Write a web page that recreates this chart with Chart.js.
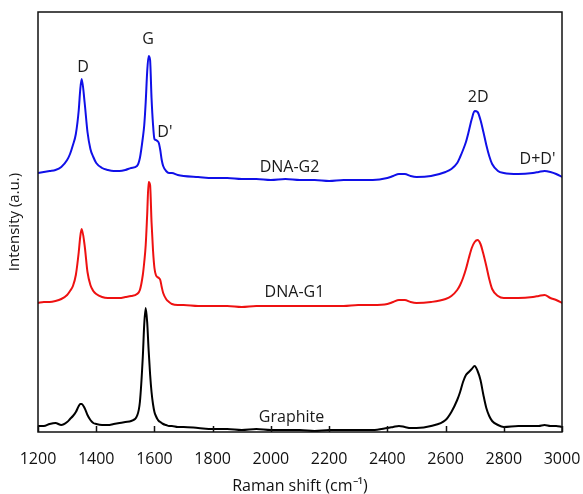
<!DOCTYPE html>
<html>
<head>
<meta charset="utf-8">
<script src="https://cdn.jsdelivr.net/npm/chart.js@4"></script>
<style>
  html, body { margin: 0; padding: 0; background: #fff; }
  #wrap { width: 583px; height: 494px; }
</style>
</head>
<body>
<div id="wrap"><canvas id="raman"></canvas></div>
<script>
// Raman shift grid (cm-1) shared by all three spectra
const wavenumbers = [1200, 1220, 1240, 1260, 1280, 1300, 1310, 1320, 1330, 1340, 1345, 1350, 1360, 1370, 1380, 1390, 1400, 1420, 1440, 1460, 1480, 1500, 1520, 1540, 1550, 1560, 1565, 1570, 1575, 1580, 1585, 1590, 1595, 1600, 1605, 1610, 1615, 1620, 1625, 1630, 1640, 1650, 1660, 1680, 1700, 1750, 1800, 1850, 1900, 1950, 2000, 2050, 2100, 2150, 2200, 2250, 2300, 2350, 2400, 2420, 2440, 2460, 2480, 2500, 2550, 2600, 2620, 2640, 2650, 2660, 2670, 2680, 2690, 2700, 2710, 2720, 2730, 2740, 2750, 2760, 2780, 2800, 2850, 2900, 2920, 2940, 2960, 2980, 3000];

// intensities (a.u., spectra offset vertically as in the figure)
const dnaG2 = [259, 260, 261, 262, 265, 272, 278, 287, 298, 322, 342, 353, 330, 300, 283, 275, 269, 264, 262, 261, 261, 262, 264, 266, 274, 294, 307, 330, 360, 376, 372, 334, 308, 293, 292, 291, 289, 282, 272, 266, 261, 259, 259, 257, 256, 255, 254, 254, 253, 253, 252, 253, 252, 252, 251, 252, 252, 252, 254, 256, 258, 258, 256, 255, 256, 260, 263, 269, 275, 282, 290, 301, 313, 321, 320, 312, 300, 287, 276, 268, 261, 259, 258, 259, 260, 261, 260, 258, 255];
const dnaG1 = [129, 130, 130, 131, 133, 137, 141, 146, 157, 180, 195, 203, 187, 160, 147, 141, 138, 135, 134, 134, 134, 135, 136, 138, 142, 157, 170, 187, 217, 250, 247, 210, 182, 164, 157, 155, 154, 152, 145, 139, 133, 130, 128, 127, 127, 126, 126, 126, 125, 126, 126, 126, 126, 126, 126, 126, 127, 127, 128, 130, 132, 132, 130, 129, 130, 133, 136, 142, 147, 154, 163, 174, 184, 190, 192, 188, 178, 166, 153, 143, 136, 134, 134, 135, 136, 137, 134, 132, 129];
const graphite = [6, 6, 8, 9, 7, 10, 13, 16, 20, 26, 28, 28, 24, 17, 12, 9, 8, 7, 7, 8, 9, 10, 11, 16, 30, 75, 108, 124, 110, 82, 58, 40, 28, 20, 16, 13, 11, 10, 9, 8, 7, 6, 6, 5, 5, 4, 3, 3, 2, 3, 2, 2, 2, 1, 2, 2, 2, 2, 4, 5, 6, 5, 4, 4, 6, 12, 20, 32, 40, 50, 57, 60, 63, 66, 61, 52, 37, 24, 16, 11, 7, 5, 6, 6, 6, 7, 6, 6, 5];

const xTicks = [1200, 1400, 1600, 1800, 2000, 2200, 2400, 2600, 2800, 3000];

// text labels placed in data coordinates
const labelTexts = ["D", "G", "D'", "2D", "D+D'", "DNA-G2", "DNA-G1", "Graphite"];
const labelX = [1355, 1578, 1636, 2712, 2916, 2064, 2081, 2071];
const labelY = [365, 393, 300, 335, 273, 265, 140, 15];

const FONT = "'Open Sans', 'Liberation Sans', sans-serif";

const toPoints = (ys) => wavenumbers.map((x, i) => ({ x: x, y: ys[i] }));

const framePlugin = {
  id: "frame",
  afterDatasetsDraw(chart) {
    const { ctx, chartArea: a, scales } = chart;
    ctx.save();
    // labels
    ctx.fillStyle = "#1a1a1a";
    ctx.textAlign = "center";
    ctx.textBaseline = "middle";
    labelTexts.forEach((t, i) => {
      ctx.font = "16px " + FONT;
      ctx.fillText(t, scales.x.getPixelForValue(labelX[i]), scales.y.getPixelForValue(labelY[i]));
    });
    // box
    ctx.strokeStyle = "#111";
    ctx.lineWidth = 1.5;
    ctx.strokeRect(a.left, a.top, a.right - a.left, a.bottom - a.top);
    // inward ticks on the x axis
    ctx.beginPath();
    xTicks.forEach((v) => {
      const px = Math.round(scales.x.getPixelForValue(v)) + 0.5;
      ctx.moveTo(px, a.bottom);
      ctx.lineTo(px, a.bottom - 6);
    });
    ctx.stroke();
    ctx.restore();
  },
};

const lineStyle = (color) => ({
  borderColor: color,
  borderWidth: 2,
  pointRadius: 0,
  fill: false,
  cubicInterpolationMode: "monotone",
});

new Chart(document.getElementById("raman"), {
  type: "line",
  data: {
    datasets: [
      { label: "DNA-G2", data: toPoints(dnaG2), ...lineStyle("#1010e8") },
      { label: "DNA-G1", data: toPoints(dnaG1), ...lineStyle("#ee1111") },
      { label: "Graphite", data: toPoints(graphite), ...lineStyle("#000000") },
    ],
  },
  options: {
    responsive: true,
    maintainAspectRatio: false,
    animation: false,
    layout: { padding: { top: 12, right: 21, left: 0, bottom: 0 } },
    plugins: { legend: { display: false }, tooltip: { enabled: false } },
    scales: {
      x: {
        type: "linear",
        min: 1200,
        max: 3000,
        afterBuildTicks: (s) => { s.ticks = xTicks.map((v) => ({ value: v })); },
        afterFit: (s) => { s.height = 62; s.paddingLeft = 0; s.paddingRight = 0; },
        grid: { display: false },
        border: { display: false },
        ticks: { color: "#111", font: { family: FONT, size: 16 }, padding: 10, maxRotation: 0, callback: (v) => String(v) },
        title: { display: true, text: "Raman shift (cm\u207B\u00B9)", color: "#111", font: { family: FONT, size: 16 }, padding: { top: 0, bottom: -2 } },
      },
      y: {
        min: 0,
        max: 420,
        afterFit: (s) => { s.width = 38; },
        grid: { display: false },
        border: { display: false },
        ticks: { display: false },
        title: { display: true, text: "Intensity (a.u.)", color: "#111", font: { family: FONT, size: 15 }, padding: 6 },
      },
    },
  },
  plugins: [framePlugin],
});
</script>
</body>
</html>
